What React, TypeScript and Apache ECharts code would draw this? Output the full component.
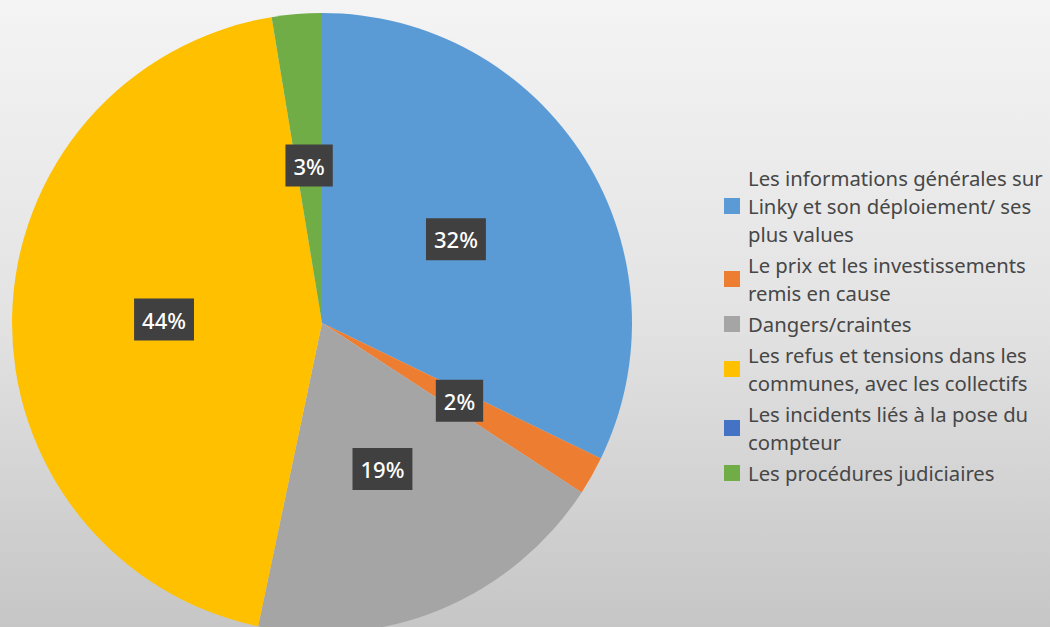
import React, { useEffect, useRef } from "react";
import * as echarts from "echarts";

const categories = [
  "Les informations générales sur Linky et son déploiement/ ses plus values",
  "Le prix et les investissements remis en cause",
  "Dangers/craintes",
  "Les refus et tensions dans les communes, avec les collectifs",
  "Les incidents liés à la pose du compteur",
  "Les procédures judiciaires",
];
const legendLines = [
  "Les informations générales sur\nLinky et son déploiement/ ses\nplus values",
  "Le prix et les investissements\nremis en cause",
  "Dangers/craintes",
  "Les refus et tensions dans les\ncommunes, avec les collectifs",
  "Les incidents liés à la pose du\ncompteur",
  "Les procédures judiciaires",
];
const values = [32.2, 2.0, 19.1, 44.1, 0, 2.6];
const colors = ["#5B9BD5", "#ED7D31", "#A5A5A5", "#FFC000", "#4472C4", "#70AD47"];

export default function App() {
  const ref = useRef<HTMLDivElement>(null);
  useEffect(() => {
    if (!ref.current) return;
    const chart = echarts.init(ref.current, undefined, { renderer: "svg" });
    const labelMap: Record<string, string> = {};
    categories.forEach((c, i) => (labelMap[c] = legendLines[i]));
    chart.setOption({
      animation: false,
      backgroundColor: new echarts.graphic.LinearGradient(0, 0, 0, 1, [
        { offset: 0, color: "#f4f4f4" },
        { offset: 0.5, color: "#e3e3e3" },
        { offset: 1, color: "#c6c6c6" },
      ]),
      color: colors,
      legend: {
        orient: "vertical",
        left: 724,
        top: 164,
        padding: 0,
        itemWidth: 16,
        itemHeight: 16,
        itemGap: 3,
        icon: "rect",
        formatter: (name: string) => labelMap[name] || name,
        textStyle: {
          fontFamily: "Noto Sans",
          fontSize: 20.3,
          lineHeight: 28,
          color: "#474747",
          padding: [0, 0, 0, 3],
        },
        data: categories,
      },
      series: [
        {
          type: "pie",
          center: [322, 323],
          radius: [0, 310],
          startAngle: 90,
          clockwise: true,
          avoidLabelOverlap: false,
          itemStyle: { borderWidth: 0 },
          emphasis: { disabled: true },
          label: {
            show: true,
            position: "inside",
            formatter: (p: any) => Math.round(p.percent) + "%",
            color: "#ffffff",
            fontFamily: "Noto Sans",
            fontSize: 22,
            fontWeight: 500,
            lineHeight: 22,
            backgroundColor: "#404040",
            padding: [11, 8, 9, 8],
          },
          labelLine: { show: false },
          data: categories.map((c, i) => ({
            name: c,
            value: values[i],
            label: values[i] === 0 ? { show: false } : undefined,
          })),
        },
      ],
    });
    return () => chart.dispose();
  }, []);
  return (
    <div
      ref={ref}
      style={{ position: "fixed", left: 0, top: 0, width: 1050, height: 627 }}
    />
  );
}
